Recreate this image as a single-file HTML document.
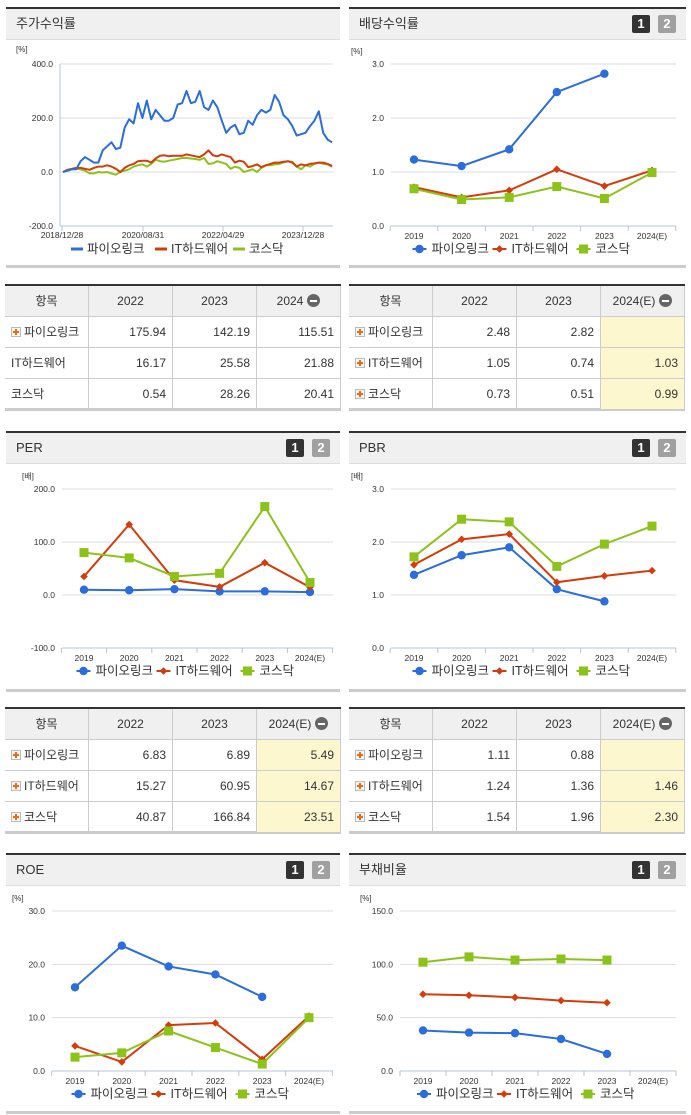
<!DOCTYPE html>
<html><head><meta charset="utf-8">
<style>
*{margin:0;padding:0;box-sizing:border-box}
body{width:691px;height:1115px;background:#fff;position:relative;overflow:hidden;font-family:"Liberation Sans","Noto Sans CJK KR",sans-serif;color:#333}
.panel{position:absolute;border-top:2px solid #333;border-bottom:3px solid #ccc}
.phead{position:absolute;left:0;right:0;top:0;height:31px;background:#f0f0f0;border-bottom:1px solid #ddd;font-size:13px;line-height:30px;padding-left:10px;color:#333}
.b1,.b2{position:absolute;top:6px;width:18px;height:18px;font-size:13px;font-weight:bold;line-height:18px;text-align:center;color:#fff;border-radius:2px}
.b1{right:36px;background:#333}.b2{right:10px;background:#a0a0a0}
.tbl{position:absolute;border-top:2px solid #333;border-bottom:3px solid #ccc}
.cell{position:absolute;height:31px;border-right:1px solid #ccc;border-bottom:1px solid #ccc;font-size:12px;line-height:31px;padding-right:6px;text-align:right;color:#333;white-space:nowrap;overflow:hidden}
.hd{background:#f0f0f0;text-align:center;padding:0}
.nm{text-align:left;padding-left:6px;padding-right:0;font-size:12px}
.yl{background:#fdf7cf}
.plus{display:inline-block;width:10px;height:10px;border:1px solid #bbb;background:#f6f6f6;vertical-align:-1px;margin-right:3px;position:relative}
.plus:before{content:"";position:absolute;left:1px;top:3px;width:6px;height:2px;background:#f06a0f}
.plus:after{content:"";position:absolute;left:3px;top:1px;width:2px;height:6px;background:#f06a0f}
.minus{display:inline-block;width:13px;height:13px;border-radius:50%;background:#666;vertical-align:-2px;margin-left:4px;position:relative}
.minus:after{content:"";position:absolute;left:3px;top:5.5px;width:7px;height:2px;background:#fff}
svg{position:absolute;left:0;top:0}
</style></head><body>

<div class="panel" style="left:6px;top:7px;width:334px;height:261px"><div class="phead">주가수익률</div></div>
<div class="panel" style="left:349px;top:7px;width:337px;height:261px"><div class="phead">배당수익률</div><div class="b1">1</div><div class="b2">2</div></div>
<div class="panel" style="left:6px;top:431px;width:334px;height:261px"><div class="phead">PER</div><div class="b1">1</div><div class="b2">2</div></div>
<div class="panel" style="left:349px;top:431px;width:337px;height:261px"><div class="phead">PBR</div><div class="b1">1</div><div class="b2">2</div></div>
<div class="panel" style="left:6px;top:853px;width:334px;height:261px"><div class="phead">ROE</div><div class="b1">1</div><div class="b2">2</div></div>
<div class="panel" style="left:349px;top:853px;width:337px;height:261px"><div class="phead">부채비율</div><div class="b1">1</div><div class="b2">2</div></div>

<div id="tables"></div>
<svg id="chart" width="691" height="1115"></svg>

<script>
// ---- chart data ----
const years = ["2019","2020","2021","2022","2023","2024(E)"];
const seriesNames = ["파이오링크","IT하드웨어","코스닥"];
const divPio = [1.23,1.11,1.42,2.48,2.82,null];
const divIT = [0.72,0.53,0.66,1.05,0.74,1.03];
const divKQ = [0.69,0.49,0.53,0.73,0.51,0.99];
const perPio = [10,9,11,6.83,6.89,5.49];
const perIT = [35,133,28,15.27,60.95,14.67];
const perKQ = [80,70,35,40.87,166.84,23.51];
const pbrPio = [1.38,1.75,1.9,1.11,0.88,null];
const pbrIT = [1.57,2.05,2.15,1.24,1.36,1.46];
const pbrKQ = [1.72,2.43,2.38,1.54,1.96,2.30];
const roePio = [15.7,23.5,19.6,18.1,13.9,null];
const roeIT = [4.7,1.7,8.6,9.0,2.2,10.3];
const roeKQ = [2.6,3.4,7.5,4.4,1.3,10.0];
const debtPio = [38,36,35.5,30,16,null];
const debtIT = [72,71,69,66,64,null];
const debtKQ = [102,107,104,105,104,null];
const retPio = [0,5,10,10,40,55,45,35,35,80,95,110,85,90,165,195,180,255,200,265,195,230,210,190,190,200,250,255,300,255,260,300,240,230,265,240,190,145,165,175,140,145,190,175,210,230,220,230,285,260,210,195,170,135,140,145,170,190,225,145,120,110];
const retIT = [0,8,12,15,15,12,8,15,20,20,25,20,12,0,15,25,30,40,42,42,35,50,60,62,58,60,60,60,65,62,58,55,65,80,62,58,65,60,55,35,42,38,18,22,28,18,25,30,35,35,38,40,35,20,28,25,30,32,35,35,30,20];
const retKQ = [0,5,10,12,10,5,-5,-5,0,-2,0,-5,-10,0,5,10,20,25,28,20,30,45,40,38,42,45,48,52,52,50,48,45,52,30,32,40,35,30,12,20,15,0,5,10,0,15,25,25,28,30,35,40,38,20,10,25,20,30,35,30,28,25];
const retTicks = [400,200,0,-200];
const retDates = ["2018/12/28","2020/08/31","2022/04/29","2023/12/28"];
const divTicks=[3,2,1,0], perTicks=[200,100,0,-100], pbrTicks=[3,2,1,0], roeTicks=[30,20,10,0], debtTicks=[150,100,50,0];

const COL=["#2a6ddb","#d33c0b","#8cc21a"];
const NS="http://www.w3.org/2000/svg";
const svg=document.getElementById("chart");
function el(tag,attrs,parent){const e=document.createElementNS(NS,tag);for(const k in attrs)e.setAttribute(k,attrs[k]);(parent||svg).appendChild(e);return e;}
function txt(x,y,s,size,anchor,parent,fill){const t=el("text",{x:x,y:y,"font-size":size,"text-anchor":anchor||"middle",fill:fill||"#333","font-family":"Liberation Sans, Noto Sans CJK KR, sans-serif"},parent);t.textContent=s;return t;}

function marker(g,i,x,y){
  let m;
  if(i===0){m=el("circle",{cx:x,cy:y,r:4.2,fill:COL[0]},g);}
  else if(i===1){m=el("polygon",{points:`${x},${y-3.8} ${x+3.8},${y} ${x},${y+3.8} ${x-3.8},${y}`,fill:COL[1]},g);}
  else {m=el("rect",{x:x-4.5,y:y-4.5,width:9,height:9,fill:COL[2]},g);}
  
  
}

function legend(cx,y,markers){
  const g=el("g",{});
  
  
  const off=markers?[0,80,164]:[0,84,162];
  const ll=markers?14:12, tx=markers?19:16;
  const x0=markers?cx-113:cx-110;
  seriesNames.forEach((n,i)=>{
    const x=x0+off[i];
    el("line",{x1:x,y1:y-4,x2:x+ll,y2:y-4,stroke:COL[i],"stroke-width":markers?2:3},g);
    if(markers)marker(g,i,x+ll/2,y-4);
    const t=txt(x+tx,y,n,12.5,"start",g);
    
    
  });
}

function catChart(name,c,ticks,series,unit){
  const g=el("g",{});
  
  
  const vMax=ticks[0],vMin=ticks[ticks.length-1];
  const yS=v=>c.yTop+(vMax-v)/(vMax-vMin)*(c.yBot-c.yTop);
  const xS=i=>c.x0+i*(c.x1-c.x0)/(years.length-1);
  txt(c.ax0-40,c.yTop-10,unit,8,"start",g);
  ticks.forEach(t=>{
    const y=yS(t);
    if(t!==vMin)el("line",{x1:c.ax0,y1:y,x2:c.ax1,y2:y,stroke:"#ddd","stroke-width":1},g);
    txt(c.ax0-7,y+3,t.toFixed(1),8.5,"end",g);
  });
  el("line",{x1:c.ax0,y1:c.yBot,x2:c.ax1,y2:c.yBot,stroke:"#b8c4d8","stroke-width":1},g);
  const step=(c.x1-c.x0)/(years.length-1);
  for(let i=0;i<=years.length;i++){const x=c.x0-step/2+i*step;el("line",{x1:x,y1:c.yBot,x2:x,y2:c.yBot+5,stroke:"#b8c4d8"},g);}
  years.forEach((yr,i)=>{const t=txt(xS(i),c.yBot+13,yr,8.5,"middle",g);});
  series.forEach((arr,si)=>{
    let d="";arr.forEach((v,i)=>{if(v==null)return;d+=(d?"L":"M")+xS(i)+","+yS(v);});
    const p=el("path",{d:d,fill:"none",stroke:COL[si],"stroke-width":2},g);
    
    
    arr.forEach((v,i)=>{if(v!=null)marker(g,si,xS(i),yS(v));});
  });
  legend((c.ax0+c.ax1)/2-8,c.yBot+27,true);
}

// stock return chart
(function(){
  const g=el("g",{});
  
  
  const yTop=64,yBot=226,ax0=60,ax1=333,vMax=retTicks[0],vMin=retTicks[retTicks.length-1];
  const yS=v=>yTop+(vMax-v)/(vMax-vMin)*(yBot-yTop);
  txt(16,52,"[%]",8,"start",g);
  retTicks.forEach(t=>{const y=yS(t);if(t!==vMin)el("line",{x1:ax0,y1:y,x2:ax1,y2:y,stroke:"#ddd"},g);txt(53,y+3,t.toFixed(1),8.5,"end",g);});
  el("line",{x1:ax0,y1:yBot,x2:ax1,y2:yBot,stroke:"#b8c4d8"},g);
  el("line",{x1:ax0,y1:yTop,x2:ax0,y2:yBot,stroke:"#b8c4d8"},g);
  const dx=[62,143,223,303];
  retDates.forEach((d,i)=>{el("line",{x1:dx[i],y1:yBot,x2:dx[i],y2:yBot+5,stroke:"#b8c4d8"},g);const t=txt(dx[i],yBot+12,d,8.5,"middle",g);});
  [retKQ,retIT,retPio].forEach((arr,k)=>{
    const si=2-k;const n=arr.length;let d="";
    arr.forEach((v,i)=>{d+=(i?"L":"M")+(63+i*(332-63)/(n-1)).toFixed(1)+","+yS(v).toFixed(1);});
    const p=el("path",{d:d,fill:"none",stroke:COL[si],"stroke-width":2,"stroke-linejoin":"round"},g);
    
    
  });
  legend(181,253,false);
})();

catChart("dividend-yield-chart",{yTop:64,yBot:226,ax0:391,ax1:676,x0:414,x1:652},divTicks,[divPio,divIT,divKQ],"[%]");
catChart("per-chart",{yTop:489,yBot:648,ax0:62,ax1:333,x0:84,x1:310},perTicks,[perPio,perIT,perKQ],"[배]");
catChart("pbr-chart",{yTop:489,yBot:648,ax0:391,ax1:676,x0:414,x1:652},pbrTicks,[pbrPio,pbrIT,pbrKQ],"[배]");
catChart("roe-chart",{yTop:911,yBot:1071,ax0:52,ax1:333,x0:75,x1:309},roeTicks,[roePio,roeIT,roeKQ],"[%]");
catChart("debt-ratio-chart",{yTop:911,yBot:1071,ax0:400,ax1:676,x0:423,x1:653},debtTicks,[debtPio,debtIT,debtKQ],"[%]");

// tables
const tblHost=document.getElementById("tables");
function table(name,left,top,hdr,rows,icons,yellow){
  const t=document.createElement("div");
  t.className="tbl";t.style.left=left+"px";t.style.top=top+"px";t.style.width="336px";t.style.height="127px";
  
  
  const cw=[84,84,84,84];
  const mk=(x,y,w,html,cls)=>{const c=document.createElement("div");c.className="cell "+cls;c.style.left=x+"px";c.style.top=y+"px";c.style.width=w+"px";c.innerHTML=html;t.appendChild(c);return c;};
  let x=0;hdr.forEach((h,i)=>{const c=mk(x,0,cw[i],h+(i===3?'<span class="minus"></span>':''),"hd");x+=cw[i];});
  rows.forEach((r,ri)=>{let x=0;r.forEach((v,i)=>{
    const y=31+ri*31;
    if(i===0){const c=mk(x,y,cw[0],(icons[ri]?'<span class="plus"></span>':'')+v,"nm");}
    else{const c=mk(x,y,cw[i],v,(yellow&&i===3)?"yl":"");}
    x+=cw[i];});});
  tblHost.appendChild(t);
}
table("stock-return-table",5,284,["항목","2022","2023","2024"],[["파이오링크","175.94","142.19","115.51"],["IT하드웨어","16.17","25.58","21.88"],["코스닥","0.54","28.26","20.41"]],[1,0,0],false);
table("dividend-table",349,284,["항목","2022","2023","2024(E)"],[["파이오링크","2.48","2.82",""],["IT하드웨어","1.05","0.74","1.03"],["코스닥","0.73","0.51","0.99"]],[1,1,1],true);
table("per-table",5,707,["항목","2022","2023","2024(E)"],[["파이오링크","6.83","6.89","5.49"],["IT하드웨어","15.27","60.95","14.67"],["코스닥","40.87","166.84","23.51"]],[1,1,1],true);
table("pbr-table",349,707,["항목","2022","2023","2024(E)"],[["파이오링크","1.11","0.88",""],["IT하드웨어","1.24","1.36","1.46"],["코스닥","1.54","1.96","2.30"]],[1,1,1],true);
</script>
</body></html>
